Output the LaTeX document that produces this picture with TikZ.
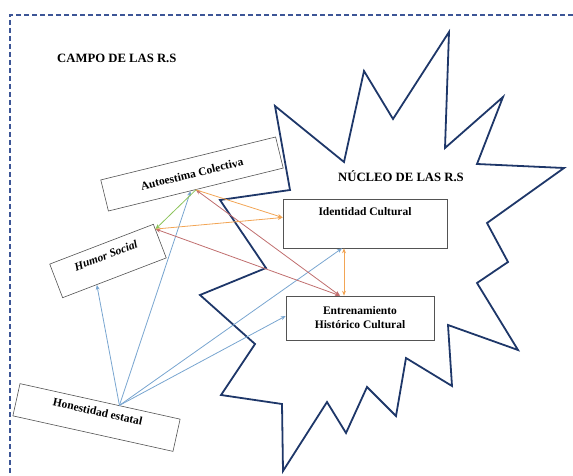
\documentclass[tikz,border=0pt]{standalone}
\usepackage{fontspec}
\setmainfont{Liberation Serif}
\usetikzlibrary{arrows.meta,calc,shadows}
\definecolor{navy}{RGB}{30,55,105}
\definecolor{framecol}{RGB}{60,85,150}
\definecolor{lblue}{RGB}{120,165,208}
\definecolor{lorange}{RGB}{242,165,85}
\definecolor{lred}{RGB}{192,110,110}
\definecolor{lgreen}{RGB}{140,195,90}
\begin{document}
\begin{tikzpicture}[x=1pt,y=-1pt,
  box/.style={draw=gray!65!black, line width=0.6pt, fill=white, inner sep=2pt,
    font=\fontsize{11.5}{14}\selectfont\bfseries, align=center},
  shbox/.style={box, drop shadow={shadow xshift=1.2pt, shadow yshift=-1.4pt, fill=gray!55, opacity=1}},
  tip/.tip={Stealth[length=5pt,width=4pt]},
  conn/.style={line width=0.8pt, -tip},
  biconn/.style={line width=0.8pt, tip-tip},
  title/.style={font=\fontsize{12.7}{14}\selectfont\bfseries, anchor=west, inner sep=0pt}]
\useasboundingbox (0,0) rectangle (573,476);
% outer dashed frame
\draw[framecol, line width=1.8pt, dash pattern=on 5pt off 3pt] (573,15) -- (10,15) -- (10,476);
% star (core)
\draw[navy, line width=1.8pt, line join=miter]
  (275,106) -- (344,162) -- (364,71) -- (393,119) -- (449,32) -- (445,148) -- (503,97)
  -- (477,164) -- (564,168) -- (487,223) -- (508,262) -- (477,283) -- (518,350) -- (448,325)
  -- (452,386) -- (406,358) -- (396,416) -- (367,387) -- (346,433) -- (327,402) -- (283,471)
  -- (282,404) -- (221,395) -- (255,344) -- (200,295) -- (266,268) -- (220,200) -- (290,190) -- cycle;
% titles
\node[title] (campo) at (57,58) {CAMPO DE LAS R.S};
\node[title] (nucleo) at (338,176) {NÚCLEO DE LAS R.S};
% boxes
\node[box, minimum width=180pt, minimum height=32pt, rotate=13.8] (aut) at (192,174) {Autoestima Colectiva};
\node[box, minimum width=111pt, minimum height=36pt, rotate=21, text height=9pt, text depth=13pt,
  font=\fontsize{11.5}{14}\selectfont\bfseries\itshape] (hum) at (108,261) {Humor Social};
\node[box, minimum width=164pt, minimum height=33pt, rotate=-12.5, text height=9pt, text depth=13pt] (hon) at (96.5,417.5) {Honestidad estatal};
\node[shbox, minimum width=164pt, minimum height=49pt, text height=14pt, text depth=31pt] (ide) at (365,223.5) {Identidad Cultural};
\node[shbox, minimum width=148pt, minimum height=44pt] (ent) at (360,318) {Entrenamiento\\Histórico Cultural};
% connection points
\coordinate (hsrc) at ($(hon.north west)!0.62!(hon.north east)$);
\coordinate (humB) at ($(hum.south west)!0.33!(hum.south east)$);
\coordinate (humR) at ($(hum.north east)!0.15!(hum.south east)$);
\coordinate (autB) at ($(aut.south west)!0.47!(aut.south east)$);
\coordinate (autS) at ($(aut.south west)!0.5!(aut.south east)$);
% blue connectors
\draw[conn, lblue] (hsrc) -- (humB);
\draw[conn, lblue] (hsrc) -- (autB);
\draw[conn, lblue] (hsrc) -- ([xshift=-23pt]ide.south);
\draw[conn, lblue] (hsrc) -- ([yshift=2pt]ent.west);
% red connectors
\draw[biconn, lred] ([xshift=-20pt]ent.north) -- (autS);
\draw[biconn, lred] ([xshift=-20pt]ent.north) -- (humR);
% orange connectors
\draw[conn, lorange] (autS) -- ([yshift=6pt]ide.west);
\draw[conn, lorange] (humR) -- ([yshift=6pt]ide.west);
\draw[biconn, lorange] ([xshift=-21pt]ide.south) -- ([xshift=-16pt]ent.north);
% green connector
\draw[conn, lgreen] (autS) -- (humR);
\end{tikzpicture}
\end{document}
